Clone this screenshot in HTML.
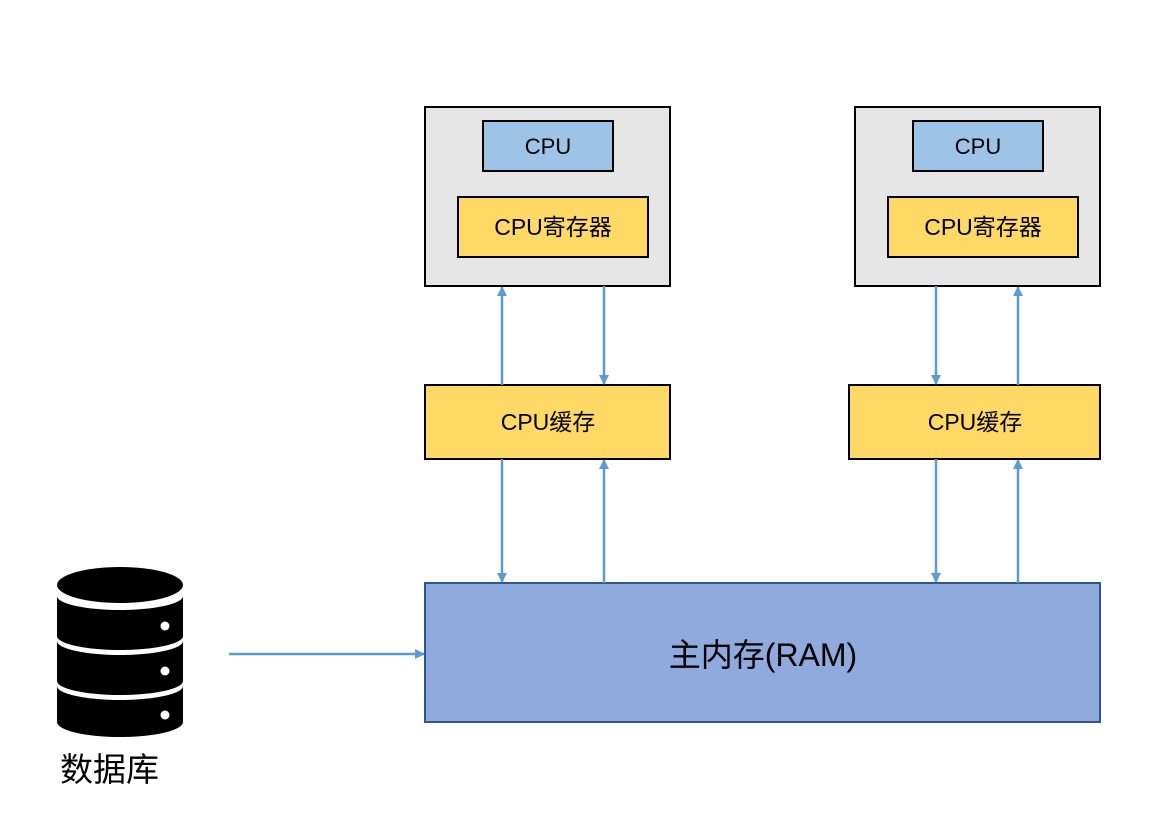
<!DOCTYPE html>
<html><head><meta charset="utf-8"><style>
html,body{margin:0;padding:0;background:#fff;}
svg text{font-family:"Liberation Sans","Noto Sans CJK SC",sans-serif;fill:#000;}
</style></head><body>
<svg width="1161" height="808" viewBox="0 0 1161 808" xmlns="http://www.w3.org/2000/svg">
<defs><marker id="a" markerWidth="10" markerHeight="10" refX="9" refY="5" orient="auto" markerUnits="userSpaceOnUse"><path d="M0,0 L10,5 L0,10 z" fill="#5b9bd5"/></marker></defs>
<g stroke="#000" stroke-width="2">
<rect x="425" y="107" width="245" height="179" fill="#e6e6e6"/>
<rect x="483" y="121" width="130" height="50" fill="#9dc3e6"/>
<rect x="458" y="197" width="190" height="60" fill="#ffd966"/>
<rect x="855" y="107" width="245" height="179" fill="#e6e6e6"/>
<rect x="913" y="121" width="130" height="50" fill="#9dc3e6"/>
<rect x="888" y="197" width="190" height="60" fill="#ffd966"/>
<rect x="425" y="385" width="245" height="74" fill="#ffd966"/>
<rect x="849" y="385" width="251" height="74" fill="#ffd966"/>
</g>
<rect x="425" y="583" width="675" height="139" fill="#8faadc" stroke="#2f5597" stroke-width="2"/>
<g font-size="22" text-anchor="middle">
<text x="548" y="154">CPU</text><text x="553" y="235" font-size="23">CPU寄存器</text>
<text x="978" y="154">CPU</text><text x="983" y="235" font-size="23">CPU寄存器</text>
<text x="548" y="430" font-size="23">CPU缓存</text><text x="975" y="430" font-size="23">CPU缓存</text>
</g>
<text x="763" y="666" font-size="32" text-anchor="middle">主内存(RAM)</text>
<g stroke="#5b9bd5" stroke-width="2.5" marker-end="url(#a)">
<line x1="502" y1="385" x2="502" y2="287"/>
<line x1="604" y1="286" x2="604" y2="384"/>
<line x1="502" y1="459" x2="502" y2="582"/>
<line x1="604" y1="583" x2="604" y2="460"/>
<line x1="936" y1="286" x2="936" y2="384"/>
<line x1="1018" y1="385" x2="1018" y2="287"/>
<line x1="936" y1="459" x2="936" y2="582"/>
<line x1="1018" y1="583" x2="1018" y2="460"/>
<line x1="229" y1="654" x2="424" y2="654"/>
</g>
<g fill="#000">
<ellipse cx="120" cy="585" rx="63" ry="18"/>
<path d="M57,596 A63,14 0 0 0 183,596 L183,636 A63,14 0 0 1 57,636 Z"/>
<path d="M57,641 A63,14 0 0 0 183,641 L183,681 A63,14 0 0 1 57,681 Z"/>
<path d="M57,686 A63,14 0 0 0 183,686 L183,722 A63,15 0 0 1 57,722 Z"/>
<circle cx="165" cy="626" r="4.5" fill="#fff"/>
<circle cx="165" cy="671" r="4.5" fill="#fff"/>
<circle cx="165" cy="715" r="4.5" fill="#fff"/>
</g>
<text x="60" y="781" font-size="33">数据库</text>
</svg>
</body></html>
